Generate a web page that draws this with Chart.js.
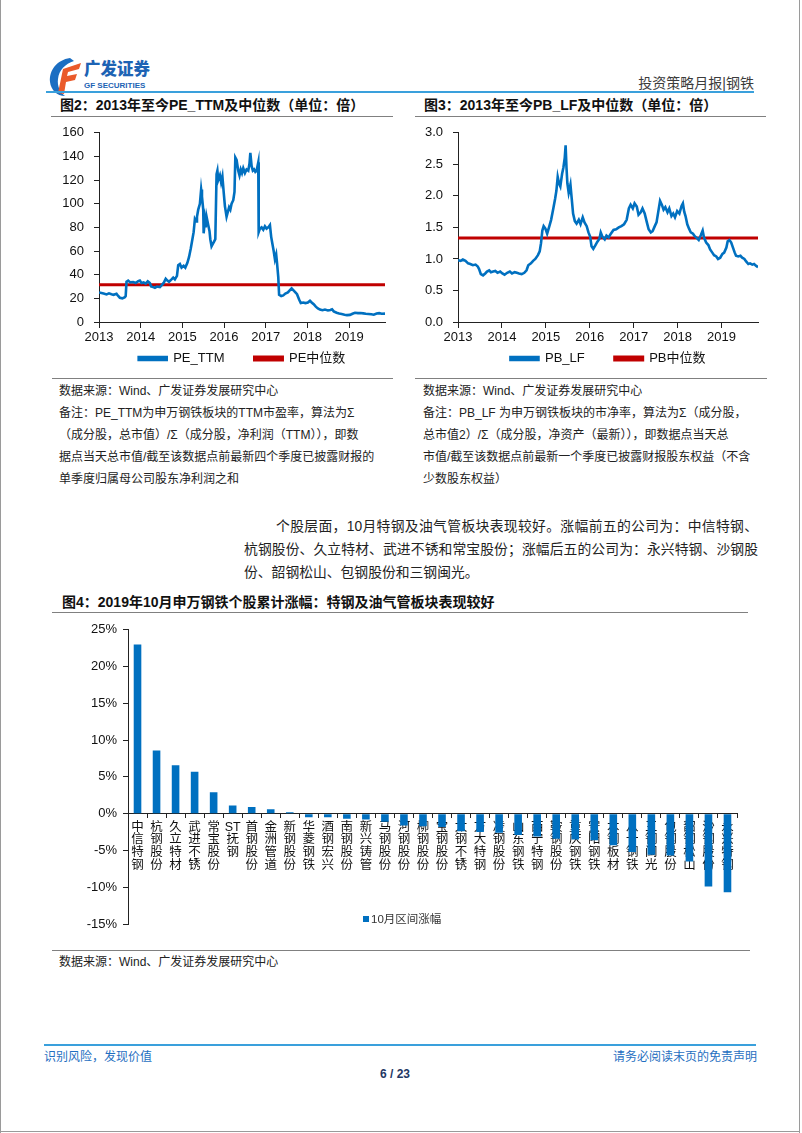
<!DOCTYPE html>
<html lang="zh-CN">
<head>
<meta charset="utf-8">
<title>投资策略月报|钢铁</title>
<script src="https://cdn.jsdelivr.net/npm/chart.js@4.4.1/dist/chart.umd.min.js"></script>
<style>
  html, body { margin: 0; padding: 0; background: #fff; }
  body { width: 802px; height: 1133px; position: relative; overflow: hidden;
         font-family: "Liberation Sans", "Noto Sans CJK SC", sans-serif; color: #1a1a1a; }
  .abs { position: absolute; white-space: nowrap; }
  .rule { position: absolute; height: 1px; background: #808080; }
  .blue-rule { position: absolute; height: 2px; background: #3aa0dc; }
  .title { font-size: 14px; font-weight: bold; line-height: 18px; color: #111; }
  .note { font-size: 12px; line-height: 22px; color: #222; }
  .para { font-size: 13.8px; line-height: 23px; color: #222; }
  .para div { white-space: nowrap; text-align: justify; text-align-last: justify; }
  .para div.last { text-align-last: left; }
</style>
</head>
<body>
<!-- page frame -->
<div class="abs" style="left:0;top:0;width:1px;height:1133px;background:#9a9a9a"></div>
<div class="abs" style="left:799px;top:0;width:1px;height:1133px;background:#9a9a9a"></div>
<div class="abs" style="left:0;top:1131px;width:800px;height:1px;background:#9a9a9a"></div>

<!-- header -->
<svg class="abs" style="left:48px;top:57px" width="34" height="40" viewBox="0 0 34 40">
  <path d="M22 1 C9 3 1 13 2 25 C3 33 9 39 17 39 C12 35 9 29 10 22 C11 13 17 7 26 4 Z" fill="#1b6ec2"/>
  <path d="M15 12 L33 6 L31 12 L20 15 L19 19 L29 17 L27 23 L18 25 L16 37 L10 36 Z" fill="#ea5a2a"/>
</svg>
<div class="abs" style="left:84px;top:58px;font-size:16.5px;font-weight:900;color:#1d63b4;line-height:22px">广发证券</div>
<div class="abs" style="left:84px;top:81px;font-size:8px;font-weight:bold;color:#1d63b4;line-height:10px">GF SECURITIES</div>
<div class="abs" style="right:48px;top:74px;font-size:14px;line-height:18px;color:#3c3c3c">投资策略月报|钢铁</div>
<div class="blue-rule" style="left:46px;top:91px;width:708px"></div>

<!-- figure titles -->
<div class="abs title" style="left:60px;top:96px">图2：2013年至今PE_TTM及中位数（单位：倍）</div>
<div class="abs title" style="left:424px;top:96px">图3：2013年至今PB_LF及中位数（单位：倍）</div>
<div class="rule" style="left:51px;top:116px;width:342px"></div>
<div class="rule" style="left:415px;top:116px;width:351px"></div>

<div class="abs" style="left:40px;top:115px;width:358px;height:262px">
  <canvas id="peChart" width="358" height="262"></canvas>
</div>
<div class="abs" style="left:400px;top:115px;width:398px;height:262px">
  <canvas id="pbChart" width="398" height="262"></canvas>
</div>

<div class="rule" style="left:52px;top:378px;width:341px"></div>
<div class="rule" style="left:415px;top:378px;width:352px"></div>

<div class="abs note" style="left:59px;top:380px">
  <div>数据来源：Wind、广发证券发展研究中心</div>
  <div>备注：PE_TTM为申万钢铁板块的TTM市盈率，算法为Σ</div>
  <div>（成分股，总市值）/Σ（成分股，净利润（TTM）），即数</div>
  <div>据点当天总市值/截至该数据点前最新四个季度已披露财报的</div>
  <div>单季度归属母公司股东净利润之和</div>
</div>
<div class="abs note" style="left:423px;top:380px">
  <div>数据来源：Wind、广发证券发展研究中心</div>
  <div>备注：PB_LF 为申万钢铁板块的市净率，算法为Σ（成分股，</div>
  <div>总市值2）/Σ（成分股，净资产（最新）），即数据点当天总</div>
  <div>市值/截至该数据点前最新一个季度已披露财报股东权益（不含</div>
  <div>少数股东权益）</div>
</div>

<div class="abs para" style="left:244px;top:515px;width:514px">
  <div style="padding-left:32px">个股层面，10月特钢及油气管板块表现较好。涨幅前五的公司为：中信特钢、</div>
  <div>杭钢股份、久立特材、武进不锈和常宝股份；涨幅后五的公司为：永兴特钢、沙钢股</div>
  <div class="last">份、韶钢松山、包钢股份和三钢闽光。</div>
</div>

<div class="abs title" style="left:62px;top:593px">图4：2019年10月申万钢铁个股累计涨幅：特钢及油气管板块表现较好</div>
<div class="rule" style="left:52px;top:612px;width:696px"></div>

<div class="abs" style="left:44px;top:616px;width:714px;height:330px">
  <canvas id="stockChart" width="714" height="330"></canvas>
</div>
<div class="abs" style="left:363px;top:912px;font-size:11.5px;line-height:14px;color:#333">
  <span style="display:inline-block;width:6px;height:6px;background:#0070c0;margin-right:2px;vertical-align:1px"></span>10月区间涨幅
</div>

<div class="rule" style="left:52px;top:950px;width:698px"></div>
<div class="abs note" style="left:59px;top:951px">数据来源：Wind、广发证券发展研究中心</div>

<!-- footer -->
<div class="blue-rule" style="left:44px;top:1044px;width:712px"></div>
<div class="abs" style="left:44px;top:1049px;font-size:12px;line-height:16px;color:#1f6fc1">识别风险，发现价值</div>
<div class="abs" style="right:45px;top:1049px;font-size:12px;line-height:16px;color:#1f6fc1">请务必阅读末页的免责声明</div>
<div class="abs" style="left:365px;top:1066px;width:60px;text-align:center;font-size:12px;font-weight:bold;line-height:16px;color:#1f3864">6 / 23</div>

<script>
// ---- data ----
const yearStart = 2013;

// PE_TTM (decimal year, value)
const peDates = [2013.00, 2013.06, 2013.11, 2013.18, 2013.24, 2013.30, 2013.35, 2013.42, 2013.46, 2013.50,
  2013.56, 2013.62, 2013.64, 2013.66, 2013.70, 2013.75, 2013.82, 2013.88, 2013.94, 2013.98,
  2014.02, 2014.07, 2014.12, 2014.17, 2014.22, 2014.25, 2014.30, 2014.34, 2014.39, 2014.46,
  2014.50, 2014.55, 2014.60, 2014.64, 2014.68, 2014.74, 2014.78, 2014.82, 2014.87, 2014.90,
  2014.94, 2014.98, 2015.03, 2015.07, 2015.12, 2015.16, 2015.20, 2015.24, 2015.27, 2015.30,
  2015.33, 2015.35, 2015.38, 2015.42, 2015.45, 2015.47, 2015.50, 2015.51, 2015.54, 2015.56,
  2015.58, 2015.62, 2015.65, 2015.67, 2015.70, 2015.73, 2015.76, 2015.79, 2015.82, 2015.84,
  2015.86, 2015.90, 2015.93, 2015.96, 2015.99, 2016.02, 2016.06, 2016.09, 2016.12, 2016.15,
  2016.18, 2016.22, 2016.25, 2016.27, 2016.30, 2016.34, 2016.37, 2016.40, 2016.43, 2016.46,
  2016.50, 2016.54, 2016.58, 2016.61, 2016.63, 2016.66, 2016.69, 2016.72, 2016.75, 2016.78,
  2016.82, 2016.83, 2016.86, 2016.90, 2016.94, 2016.98, 2017.02, 2017.06, 2017.10, 2017.13,
  2017.16, 2017.19, 2017.22, 2017.25, 2017.27, 2017.30, 2017.32, 2017.37, 2017.42, 2017.47,
  2017.53, 2017.58, 2017.62, 2017.66, 2017.70, 2017.75, 2017.80, 2017.84, 2017.90, 2017.95,
  2018.01, 2018.06, 2018.10, 2018.15, 2018.20, 2018.25, 2018.30, 2018.36, 2018.42, 2018.49,
  2018.55, 2018.59, 2018.63, 2018.70, 2018.76, 2018.82, 2018.89, 2018.95, 2019.02, 2019.08,
  2019.14, 2019.21, 2019.27, 2019.34, 2019.40, 2019.46, 2019.53, 2019.59, 2019.66, 2019.72,
  2019.78, 2019.86];
const peValues = [25, 24.5, 24, 23.3, 24.2, 23.5, 23, 23.8, 22, 20.5,
  20, 21, 22, 34, 35, 33.5, 33.8, 33, 34.5, 35,
  33, 33.5, 32.5, 34.5, 33, 30, 29.5, 29, 30, 29.5,
  31, 33, 36.5, 35, 34, 36, 37.5, 36, 39, 48,
  49, 46, 47.5, 46, 50, 55, 62, 70, 76, 87,
  85, 89, 95, 100, 112, 106, 95, 75, 86, 80,
  89, 82, 77, 70, 64, 66, 68, 70, 125, 128,
  120, 124, 118, 123, 110, 98, 89, 93, 97, 95,
  100, 103, 110, 139, 137, 128, 124, 129, 126, 130,
  126, 129, 128, 134, 143, 132, 128, 129, 127, 128,
  135, 76, 79, 80, 78, 81, 79, 80, 82, 72,
  66, 60, 53, 57, 50, 38, 23, 22, 22.5, 24,
  25, 27, 28.5, 27, 25.5, 23.5, 19, 16, 16.5, 16,
  16.5, 18, 16.5, 15, 13, 11.5, 10.5, 10, 10.5, 9.8,
  10.2, 10.8, 9, 7.8, 7.2, 6.8, 6.2, 5.8, 6, 7,
  7.8, 7.5, 7.6, 7.3, 7, 6.8, 6.5, 6.2, 7.2, 7.5,
  7, 7.1];
const peMedian = 31.5;

// PB_LF (decimal year, value)
const pbDates = [2013.00, 2013.06, 2013.11, 2013.17, 2013.23, 2013.28, 2013.34, 2013.40, 2013.45, 2013.48,
  2013.52, 2013.57, 2013.62, 2013.66, 2013.71, 2013.75, 2013.80, 2013.85, 2013.90, 2013.96,
  2014.01, 2014.06, 2014.12, 2014.18, 2014.23, 2014.29, 2014.34, 2014.39, 2014.45, 2014.51,
  2014.56, 2014.60, 2014.66, 2014.71, 2014.76, 2014.82, 2014.86, 2014.89, 2014.92, 2014.95,
  2014.99, 2015.03, 2015.08, 2015.12, 2015.17, 2015.21, 2015.24, 2015.27, 2015.30, 2015.33,
  2015.37, 2015.40, 2015.43, 2015.45, 2015.47, 2015.49, 2015.52, 2015.56, 2015.59, 2015.62,
  2015.66, 2015.70, 2015.75, 2015.79, 2015.84, 2015.88, 2015.93, 2015.97, 2016.01, 2016.04,
  2016.08, 2016.13, 2016.17, 2016.22, 2016.25, 2016.29, 2016.34, 2016.38, 2016.43, 2016.48,
  2016.54, 2016.60, 2016.66, 2016.72, 2016.78, 2016.84, 2016.89, 2016.93, 2016.98, 2017.02,
  2017.07, 2017.11, 2017.16, 2017.20, 2017.25, 2017.30, 2017.34, 2017.39, 2017.43, 2017.48,
  2017.52, 2017.56, 2017.60, 2017.64, 2017.68, 2017.72, 2017.77, 2017.81, 2017.86, 2017.90,
  2017.94, 2017.99, 2018.04, 2018.09, 2018.12, 2018.15, 2018.18, 2018.22, 2018.26, 2018.30,
  2018.35, 2018.39, 2018.44, 2018.48, 2018.53, 2018.57, 2018.60, 2018.65, 2018.70, 2018.74,
  2018.79, 2018.83, 2018.88, 2018.92, 2018.97, 2019.02, 2019.06, 2019.11, 2019.14, 2019.18,
  2019.22, 2019.26, 2019.30, 2019.33, 2019.38, 2019.43, 2019.47, 2019.52, 2019.56, 2019.61,
  2019.65, 2019.70, 2019.74, 2019.79, 2019.83];
const pbValues = [0.98, 0.97, 0.99, 0.97, 0.93, 0.92, 0.90, 0.91, 0.88, 0.84,
  0.76, 0.74, 0.77, 0.80, 0.82, 0.79, 0.80, 0.81, 0.78, 0.80,
  0.77, 0.75, 0.78, 0.80, 0.77, 0.79, 0.78, 0.77, 0.76, 0.78,
  0.82, 0.90, 0.93, 0.97, 1.00, 1.06, 1.12, 1.25, 1.45, 1.52,
  1.48, 1.40, 1.52, 1.62, 1.80, 1.95, 2.08, 2.30, 2.20, 2.15,
  2.35, 2.45, 2.60, 2.80, 2.45, 2.20, 2.05, 2.18, 1.95, 1.72,
  1.60, 1.56, 1.62, 1.55, 1.66, 1.58, 1.52, 1.42, 1.35, 1.20,
  1.16, 1.22, 1.27, 1.32, 1.42, 1.35, 1.31, 1.37, 1.34, 1.40,
  1.46, 1.47, 1.50, 1.52, 1.55, 1.62, 1.80, 1.86, 1.80, 1.88,
  1.83, 1.70, 1.74, 1.80, 1.72, 1.58, 1.47, 1.42, 1.44, 1.52,
  1.58, 1.75, 1.92, 1.86, 1.78, 1.82, 1.74, 1.80, 1.68, 1.72,
  1.66, 1.76, 1.72, 1.84, 1.88, 1.75, 1.68, 1.55, 1.48, 1.42,
  1.40, 1.36, 1.33, 1.30, 1.38, 1.45, 1.34, 1.26, 1.22, 1.15,
  1.10, 1.06, 1.04, 1.00, 1.02, 1.08, 1.10, 1.18, 1.28, 1.30,
  1.26, 1.18, 1.10, 1.05, 1.04, 1.05, 1.02, 1.00, 0.96, 0.92,
  0.93, 0.91, 0.92, 0.89, 0.87];
const pbMedian = 1.33;

// 2019年10月 个股涨幅 (%)
const stockNames = ['中信特钢', '杭钢股份', '久立特材', '武进不锈', '常宝股份', 'ST抚钢', '首钢股份', '金洲管道',
  '新钢股份', '华菱钢铁', '酒钢宏兴', '南钢股份', '新兴铸管', '马钢股份', '河钢股份', '柳钢股份',
  '宝钢股份', '太钢不锈', '方大特钢', '凌钢股份', '山东钢铁', '西宁特钢', '鞍钢股份', '重庆钢铁',
  '安阳钢铁', '本钢板材', '八一钢铁', '三钢闽光', '包钢股份', '韶钢松山', '沙钢股份', '永兴特钢'];
const octChange = [23.0, 8.6, 6.6, 5.7, 2.9, 1.1, 0.9, 0.6,
  0.2, -0.5, -0.5, -0.7, -0.8, -1.1, -1.6, -1.7,
  -1.8, -2.4, -2.5, -2.6, -2.9, -3.1, -3.4, -3.5,
  -3.6, -4.3, -5.2, -5.6, -5.7, -6.5, -9.9, -10.7];

const FONT = '"Liberation Sans", "Noto Sans CJK SC", sans-serif';
const BLUE = '#0070c0';
const RED = '#c00000';

function createLineChart(id, dates, values, median, names, opts){
  const series = dates.map((d, i) => ({x: d, y: values[i]}));
  const xMax = dates[dates.length - 1];
  const ctx = document.getElementById(id).getContext('2d');
  return new Chart(ctx, {
    type: 'line',
    data: {
      datasets: [{
        label: names[0],
        data: series,
        borderColor: BLUE,
        backgroundColor: BLUE,
        borderWidth: 2.6,
        pointRadius: 0
      }, {
        label: names[1],
        data: [{x: dates[0], y: median}, {x: xMax, y: median}],
        borderColor: RED,
        backgroundColor: RED,
        borderWidth: 3,
        pointRadius: 0
      }]
    },
    options: {
      responsive: false,
      animation: false,
      layout: { padding: { top: 0, right: opts.padRight, bottom: 2, left: 0 } },
      plugins: {
        legend: {
          position: 'bottom',
          fullSize: false,
          labels: { boxWidth: 28, boxHeight: 3, padding: 30, color: '#111', font: { size: 13, family: FONT } }
        },
        tooltip: { enabled: false }
      },
      scales: {
        x: {
          type: 'linear',
          // pinned to y = 0 so the year labels do not push the legend down
          position: { y: 0 },
          min: yearStart,
          max: xMax,
          ticks: { stepSize: 1, includeBounds: false, padding: 3, maxRotation: 0, color: '#111',
                   font: { size: 13, family: FONT }, callback: v => String(v) },
          grid: { drawOnChartArea: false, tickLength: 5, color: '#222' },
          border: { color: '#222', width: 1 }
        },
        y: {
          min: 0,
          max: opts.yMax,
          afterFit: s => { s.width = opts.axisWidth; },
          ticks: { stepSize: opts.step, padding: 10, color: '#111', font: { size: 13, family: FONT },
                   callback: v => v.toFixed(opts.decimals) },
          grid: { drawOnChartArea: false, tickLength: 5, color: '#222' },
          border: { color: '#222', width: 1 }
        }
      }
    }
  });
}

function createBarChart(){
  const ctx = document.getElementById('stockChart').getContext('2d');
  // split names into stacked characters, keep "ST" together
  const labels = stockNames.map(n => n.match(/[A-Za-z]+|./g));
  return new Chart(ctx, {
    type: 'bar',
    data: {
      labels: labels,
      datasets: [{
        label: '10月区间涨幅',
        data: octChange,
        backgroundColor: BLUE,
        barPercentage: 0.4,
        categoryPercentage: 1.0
      }]
    },
    options: {
      responsive: false,
      animation: false,
      layout: { padding: { top: 13, right: 21, bottom: 22, left: 0 } },
      plugins: { legend: { display: false }, tooltip: { enabled: false } },
      scales: {
        x: {
          position: { y: 0 },
          z: 1,
          offset: true,
          ticks: { padding: 3, autoSkip: false, maxRotation: 0, minRotation: 0, color: '#111',
                   font: { size: 12.5, family: FONT, lineHeight: 1.02 } },
          grid: { offset: true, drawOnChartArea: false, tickLength: 4, color: '#222' },
          border: { color: '#222', width: 1 }
        },
        y: {
          min: -15,
          max: 25,
          afterFit: s => { s.width = 84; },
          ticks: { stepSize: 5, padding: 6, color: '#111', font: { size: 13, family: FONT }, callback: v => v + '%' },
          grid: { drawOnChartArea: false, tickLength: 5, color: '#222' },
          border: { color: '#222', width: 1 }
        }
      }
    }
  });
}

createLineChart('peChart', peDates, peValues, peMedian, ['PE_TTM', 'PE中位数'],
  { yMax: 160, step: 20, decimals: 0, axisWidth: 59, padRight: 13 });
createLineChart('pbChart', pbDates, pbValues, pbMedian, ['PB_LF', 'PB中位数'],
  { yMax: 3, step: 0.5, decimals: 1, axisWidth: 58, padRight: 40 });
createBarChart();
</script>
</body>
</html>
